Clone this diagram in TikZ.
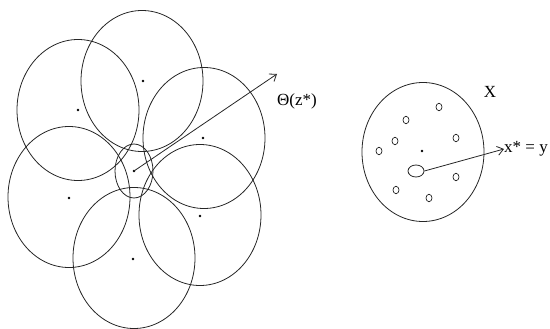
\documentclass[tikz,border=0pt]{standalone}
\usepackage{fontspec}
\setmainfont{Liberation Serif}
\usetikzlibrary{shapes.geometric,arrows.meta}
\begin{document}
\begin{tikzpicture}[x=1pt,y=-1pt,
  ring/.style={draw=black!85,ellipse,line width=0.8pt,inner sep=0pt,minimum width=122pt,minimum height=141pt},
  hub/.style={draw=black!85,ellipse,line width=0.8pt,inner sep=0pt,minimum width=38pt,minimum height=54pt},
  spot/.style={fill=black,circle,inner sep=0pt,minimum size=2.6pt},
  bead/.style={draw=black!85,ellipse,line width=0.7pt,inner sep=0pt,minimum width=6pt,minimum height=7.5pt},
  lbl/.style={font=\fontsize{17}{20}\selectfont,inner sep=0pt},
  arr/.style={line width=0.8pt,draw=black!85,-{Straight Barb[length=6pt,width=9pt,line width=0.8pt]}}]
\useasboundingbox (0,0) rectangle (550,329);
% left cluster
\node[ring] (c1) at (78,110) {};
\node[ring] (c2) at (142,81) {};
\node[ring] (c3) at (204,138) {};
\node[ring] (c4) at (69,197) {};
\node[ring] (c5) at (200,215) {};
\node[ring] (c6) at (134,258) {};
\node[hub] (c0) at (134,171) {};
\foreach \n/\p in {d1/{(78,110)},d2/{(143,81)},d3/{(203,138)},d4/{(69,198)},d5/{(200,216)},d6/{(133,259)},d0/{(134,171)}}
  \node[spot] (\n) at \p {};
\coordinate (tip) at (277,74);
\draw[arr] (d0.center) -- (tip);
\node[lbl] (theta) at (297,101) {Θ(z*)};
% right set
\node[ellipse,draw=black!85,line width=0.8pt,inner sep=0pt,minimum width=122pt,minimum height=139pt] (big) at (423,152) {};
\node[spot] (bd) at (422,151) {};
\foreach \n/\p in {b1/{(439,107)},b2/{(406,120)},b3/{(456,138)},b4/{(395,141)},b5/{(379,151)},b6/{(456,177)},b7/{(396,190)},b8/{(429,198)}}
  \node[bead] (\n) at \p {};
\node[ellipse,draw=black!85,line width=0.8pt,inner sep=0pt,minimum width=16pt,minimum height=12pt] (sel) at (416,171) {};
\node[lbl,anchor=west] (xy) at (504,149) {x* = y};
\draw[arr] (sel.east) -- (xy.west);
\node[lbl] (X) at (490,92) {X};
\end{tikzpicture}
\end{document}
